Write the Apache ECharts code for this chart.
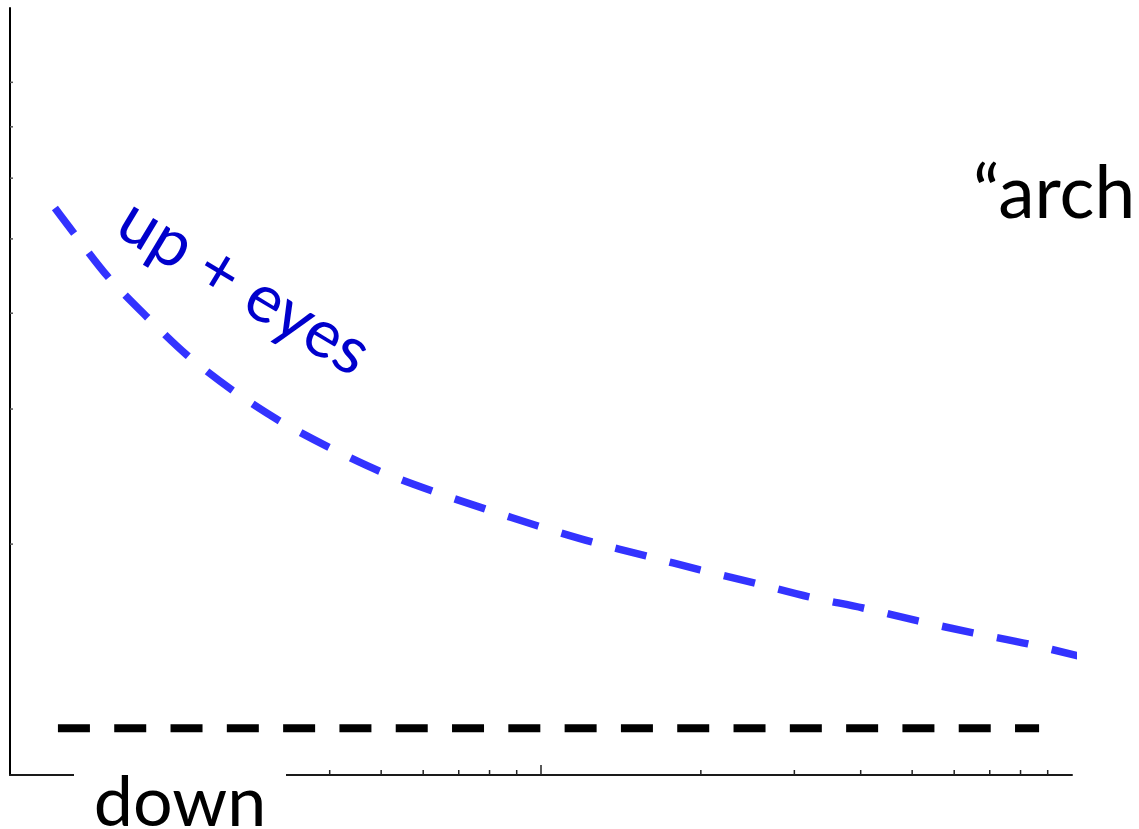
<!DOCTYPE html>
<html>
<head>
<meta charset="utf-8">
<script src="https://cdn.jsdelivr.net/npm/echarts@6/dist/echarts.min.js"></script>
<style>
  html, body { margin: 0; padding: 0; background: #fff; }
  #chart { width: 1139px; height: 829px; }
</style>
</head>
<body>
<div id="chart"></div>
<script>
// Upper curve ("up + eyes"): x and y on log scales
const upX = [1.215, 1.314, 1.530, 1.811, 2.154, 2.619, 3.197, 3.971, 4.954, 6.233, 7.844,
             9.871, 12.47, 15.77, 19.93, 25.18, 31.97, 40.40, 51.29, 65.11, 82.63, 104.9];
const upY = [5.485, 5.105, 4.461, 3.955, 3.528, 3.177, 2.903, 2.678, 2.491, 2.346, 2.223,
             2.112, 2.013, 1.930, 1.851, 1.780, 1.707, 1.651, 1.588, 1.532, 1.482, 1.425];

// Flat baseline ("down")
const downX = [1.231, 86.7];
const downY = [1.151, 1.151];

// Axis ranges and tick positions
const xRange = [1, 100];
const yRange = [1, 10];
const xMinorTicks = [2, 3, 4, 5, 6, 7, 8, 9, 20, 30, 40, 50, 60, 70, 80, 90];
const xMajorTicks = [10];
const yMinorTicks = [2, 3, 4, 5, 6, 7, 8];

const chart = echarts.init(document.getElementById('chart'), null, { renderer: 'canvas' });

function xTickSeries(values, len) {
  return {
    type: 'custom',
    silent: true,
    z: 5,
    data: values.map(v => [v, yRange[0]]),
    renderItem: (params, api) => {
      const p = api.coord([api.value(0), api.value(1)]);
      return {
        type: 'line',
        shape: { x1: p[0], y1: p[1], x2: p[0], y2: p[1] - len },
        style: { stroke: '#222', lineWidth: 1.5 }
      };
    }
  };
}

function yTickSeries(values, len) {
  return {
    type: 'custom',
    silent: true,
    z: 5,
    data: values.map(v => [xRange[0], v]),
    renderItem: (params, api) => {
      const p = api.coord([api.value(0), api.value(1)]);
      return {
        type: 'line',
        shape: { x1: p[0], y1: p[1], x2: p[0] + len, y2: p[1] },
        style: { stroke: '#555', lineWidth: 1.5 }
      };
    }
  };
}

const font = 'Lato, "Open Sans", sans-serif';

chart.setOption({
  animation: false,
  backgroundColor: '#ffffff',
  grid: { left: 10, right: 67, top: 8, bottom: 54, containLabel: false },
  xAxis: {
    type: 'log',
    logBase: 10,
    min: xRange[0],
    max: xRange[1],
    axisLine: { show: true, lineStyle: { color: '#1a1a1a', width: 2 } },
    axisTick: { show: false },
    axisLabel: { show: false },
    splitLine: { show: false }
  },
  yAxis: {
    type: 'log',
    logBase: 10,
    min: yRange[0],
    max: yRange[1],
    axisLine: { show: true, lineStyle: { color: '#000', width: 2 } },
    axisTick: { show: false },
    axisLabel: { show: false },
    splitLine: { show: false }
  },
  series: [
    {
      type: 'line',
      data: upX.map((x, i) => [x, upY[i]]),
      showSymbol: false,
      symbol: 'none',
      clip: false,
      smooth: 0.3,
      z: 3,
      lineStyle: { color: '#3333ff', width: 7.5, type: [32, 24], cap: 'butt' }
    },
    {
      type: 'line',
      data: downX.map((x, i) => [x, downY[i]]),
      showSymbol: false,
      symbol: 'none',
      clip: false,
      z: 3,
      lineStyle: { color: '#000', width: 8, type: [32, 24.3], cap: 'butt' }
    },
    xTickSeries(xMinorTicks, 5),
    xTickSeries(xMajorTicks, 10),
    yTickSeries(yMinorTicks, 3)
  ],
  graphic: [
    {
      type: 'rect',
      z: 100,
      shape: { x: 74, y: 768, width: 212, height: 61 },
      style: { fill: '#fff' }
    },
    {
      type: 'text',
      z: 101,
      x: 180,
      y: 803,
      style: {
        text: 'down',
        font: '70px ' + font,
        fill: '#000',
        align: 'center',
        verticalAlign: 'middle'
      }
    },
    {
      type: 'text',
      z: 101,
      x: 973,
      y: 194,
      style: {
        text: '\u201Carch',
        font: '73px ' + font,
        fill: '#000',
        align: 'left',
        verticalAlign: 'middle'
      }
    },
    {
      type: 'text',
      z: 101,
      x: 244,
      y: 287,
      rotation: -31 * Math.PI / 180,
      style: {
        text: 'up + eyes',
        font: '67px ' + font,
        fill: '#0000cc',
        align: 'center',
        verticalAlign: 'middle'
      }
    }
  ]
});
</script>
</body>
</html>
